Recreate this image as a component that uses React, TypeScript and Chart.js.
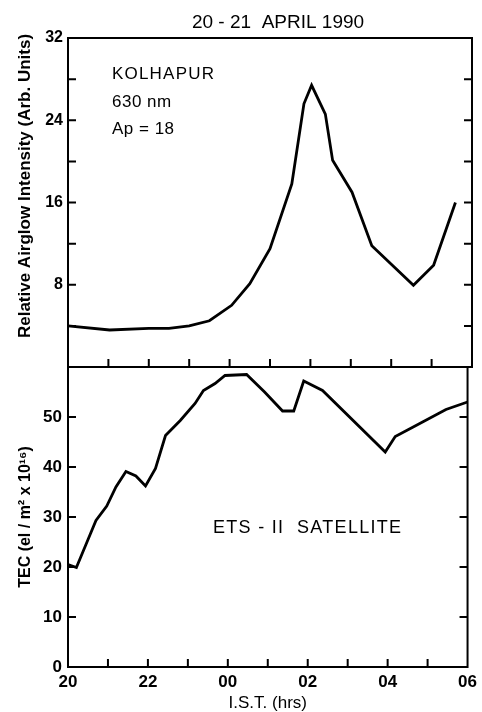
import React, { useEffect, useRef } from 'react';
import { Chart, registerables } from 'chart.js';

Chart.register(...registerables);

// ---- data ----
const airglowHours = [20, 21.03, 22.0, 22.5, 23.0, 23.5, 24.05, 24.5, 25.0, 25.54, 25.84, 26.03, 26.37, 26.55, 27.03, 27.52, 28.55, 29.05, 29.59];
const airglowValues = [4.0, 3.6, 3.75, 3.75, 4.0, 4.5, 6.0, 8.1, 11.5, 17.8, 25.6, 27.4, 24.6, 20.1, 17.0, 11.8, 7.95, 9.9, 16.0];

const tecHours = [20, 20.21, 20.46, 20.7, 20.97, 21.2, 21.45, 21.7, 21.94, 22.19, 22.44, 22.81, 23.18, 23.39, 23.68, 23.93, 24.47, 24.92, 25.37, 25.65, 25.9, 26.37, 27.94, 28.19, 28.64, 29.46, 30];
const tecValues = [20.5, 19.9, 24.7, 29.3, 32.2, 36.0, 39.1, 38.2, 36.2, 39.7, 46.3, 49.3, 52.7, 55.3, 56.7, 58.3, 58.5, 55.0, 51.2, 51.2, 57.2, 55.3, 43.0, 46.1, 48.0, 51.5, 53.0];

const xTickHours = [20, 22, 24, 26, 28, 30];
const xTickLabels = ['20', '22', '00', '02', '04', '06'];
const airglowTickLabels = [8, 16, 24, 32];
const tecTickLabels = [0, 10, 20, 30, 40, 50];

const FAMILY = '"Liberation Sans", Arial, Helvetica, sans-serif';

const frameTicks = {
  id: 'frameTicks',
  afterDatasetsDraw(chart: any, _args: any, opts: any) {
    const { ctx, chartArea: a, scales } = chart;
    const xs = scales.x;
    const ys = scales.y;
    const L = 8;
    ctx.save();
    ctx.strokeStyle = '#000';
    ctx.lineWidth = 2;
    ctx.strokeRect(a.left, a.top, a.right - a.left, a.bottom - a.top);
    ctx.beginPath();
    for (let v = xs.min + opts.xStep; v < xs.max - 1e-6; v += opts.xStep) {
      const px = xs.getPixelForValue(v);
      ctx.moveTo(px, a.bottom);
      ctx.lineTo(px, a.bottom - L);
    }
    for (let v = ys.min + opts.yStep; v < ys.max - 1e-6; v += opts.yStep) {
      const py = ys.getPixelForValue(v);
      ctx.moveTo(a.left, py);
      ctx.lineTo(a.left + L, py);
      ctx.moveTo(a.right, py);
      ctx.lineTo(a.right - L, py);
    }
    ctx.stroke();
    ctx.restore();
  },
};

const notes = {
  id: 'notes',
  afterDraw(chart: any, _args: any, opts: any) {
    const { ctx } = chart;
    (opts.items || []).forEach((it: any) => {
      ctx.save();
      ctx.fillStyle = '#000';
      ctx.font = it.font;
      (ctx as any).letterSpacing = it.spacing || '0px';
      ctx.textAlign = it.align || 'left';
      ctx.textBaseline = 'middle';
      ctx.translate(it.x, it.y);
      if (it.rotate) ctx.rotate(it.rotate);
      ctx.fillText(it.text, 0, 0);
      ctx.restore();
    });
  },
};

function xLabel(v: number) {
  const i = xTickHours.indexOf(v);
  return i >= 0 ? xTickLabels[i] : '';
}

export default function App() {
  const topRef = useRef<HTMLCanvasElement>(null);
  const botRef = useRef<HTMLCanvasElement>(null);

  useEffect(() => {
    Chart.defaults.font.family = FAMILY;
    Chart.defaults.color = '#000';

    const top = new Chart(topRef.current!, {
      type: 'line',
      data: {
        datasets: [
          {
            data: airglowHours.map((h, i) => ({ x: h, y: airglowValues[i] })),
            borderColor: '#000',
            borderWidth: 2.8,
            pointRadius: 0,
            tension: 0,
            fill: false,
          },
        ],
      },
      options: {
        responsive: false,
        animation: false,
        devicePixelRatio: 1,
        layout: { padding: { top: 38, right: 10, bottom: 345, left: 0 } },
        plugins: {
          legend: { display: false },
          tooltip: { enabled: false },
          frameTicks: { xStep: 1, yStep: 4 },
          notes: {
            items: [
              { text: '20 - 21  APRIL 1990', x: 278, y: 23, font: `19px ${FAMILY}`, align: 'center' },
              { text: 'KOLHAPUR', x: 112, y: 74, font: `17px ${FAMILY}`, spacing: '1.2px' },
              { text: '630 nm', x: 112, y: 102, font: `17px ${FAMILY}`, spacing: '0.5px' },
              { text: 'Ap = 18', x: 112, y: 129, font: `17px ${FAMILY}`, spacing: '0.5px' },
              { text: 'Relative Airglow Intensity (Arb. Units)', x: 25, y: 186, font: `bold 17px ${FAMILY}`, align: 'center', rotate: -Math.PI / 2 },
            ],
          },
        } as any,
        scales: {
          x: { type: 'linear', min: 20, max: 30, display: false },
          y: {
            min: 0,
            max: 32,
            afterFit: (s: any) => { s.width = 68; },
            grid: { display: false, drawTicks: false },
            border: { display: false },
            ticks: {
              stepSize: 4,
              autoSkip: false,
              padding: 5,
              font: { size: 16, weight: 'bold' },
              color: '#000',
              callback: (v: any) => (airglowTickLabels.includes(Number(v)) ? String(v) : ''),
            },
          },
        },
      },
      plugins: [frameTicks, notes],
    } as any);

    const bot = new Chart(botRef.current!, {
      type: 'line',
      data: {
        datasets: [
          {
            data: tecHours.map((h, i) => ({ x: h, y: tecValues[i] })),
            borderColor: '#000',
            borderWidth: 2.8,
            pointRadius: 0,
            tension: 0,
            fill: false,
          },
        ],
      },
      options: {
        responsive: false,
        animation: false,
        devicePixelRatio: 1,
        layout: { padding: { top: 367, right: 10, bottom: 0, left: 0 } },
        plugins: {
          legend: { display: false },
          tooltip: { enabled: false },
          frameTicks: { xStep: 1, yStep: 10 },
          notes: {
            items: [
              { text: 'ETS - II  SATELLITE', x: 213, y: 528, font: `18px ${FAMILY}`, spacing: '1.3px' },
            ],
          },
        } as any,
        scales: {
          x: {
            type: 'linear',
            min: 20,
            max: 30,
            afterFit: (s: any) => { s.height = 45; },
            grid: { display: false, drawTicks: false },
            border: { display: false },
            ticks: {
              stepSize: 1,
              autoSkip: false,
              maxRotation: 0,
              padding: 5,
              font: { size: 17, weight: 'bold' },
              color: '#000',
              callback: (v: any) => xLabel(Number(v)),
            },
            title: {
              display: true,
              text: 'I.S.T. (hrs)',
              font: { size: 17, lineHeight: 1 },
              padding: { top: 0, bottom: 0 },
              color: '#000',
            },
          },
          y: {
            min: 0,
            max: 60,
            afterFit: (s: any) => { s.width = 68; },
            grid: { display: false, drawTicks: false },
            border: { display: false },
            ticks: {
              stepSize: 10,
              autoSkip: false,
              padding: 6,
              font: { size: 17, weight: 'bold' },
              color: '#000',
              callback: (v: any) => (tecTickLabels.includes(Number(v)) ? String(v) : ''),
            },
            title: {
              display: true,
              text: 'TEC (el / m² x 10¹⁶)',
              font: { size: 16, weight: 'bold', lineHeight: 1.2 },
              padding: { top: 16, bottom: 0 },
              color: '#000',
            },
          },
        },
      },
      plugins: [frameTicks, notes],
    } as any);

    return () => {
      top.destroy();
      bot.destroy();
    };
  }, []);

  const cs: React.CSSProperties = { position: 'absolute', left: 0, top: 0, display: 'block' };
  return (
    <div style={{ position: 'absolute', left: 0, top: 0, width: 482, height: 712, background: '#fff' }}>
      <canvas ref={botRef} width={482} height={712} style={cs} />
      <canvas ref={topRef} width={482} height={712} style={cs} />
    </div>
  );
}
